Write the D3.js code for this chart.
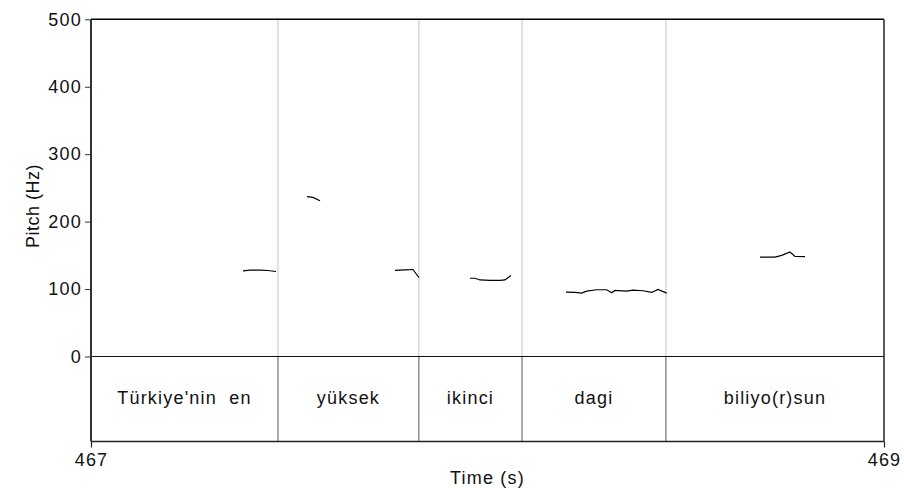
<!DOCTYPE html>
<html><head><meta charset="utf-8">
<script src="https://cdn.jsdelivr.net/npm/d3@7/dist/d3.min.js"></script>
<style>body{margin:0;background:#fff}svg text{font-family:"Liberation Sans",Arial,sans-serif;}</style>
</head><body><svg id="c" width="904" height="488"></svg>
<script>
// Data
const xDomain = [467, 469];
const yDomain = [0, 500];
const yTicks = [0, 100, 200, 300, 400, 500];
const xTickLabels = ["467", "469"];
const boundaries = [467.4716, 467.827, 468.087, 468.450];
const words = ["Türkiye'nin  en", "yüksek", "ikinci", "dagi", "biliyo(r)sun"];
const pitchSegments = [
  [[467.3834,127],[467.401,128],[467.426,128],[467.446,127.5],[467.4666,126]],
  [[467.5448,237],[467.560,236],[467.5776,231]],
  [[467.7667,127.6],[467.792,128.5],[467.812,129],[467.8272,116.8]],
  [[467.9559,116],[467.9685,116],[467.981,113.5],[468.0063,113],[468.0315,113],[468.0441,113.5],[468.0593,120]],
  [[468.198,95.4],[468.2207,95],[468.2376,94],[468.2502,97],[468.2754,99],[468.3006,99],[468.3132,94.5],[468.3215,98],[468.3510,97],[468.3670,98.5],[468.3922,97.5],[468.4141,95],[468.4300,99.5],[468.4520,94]],
  [[468.6873,147.3],[468.7251,147.5],[468.7420,150],[468.7629,155],[468.7755,148.4],[468.8008,148]]
];

const L = 91, R = 884, T = 19.3, Y0 = 356.5, B = 441.5;
const svg = d3.select("#c");
const x = d3.scaleLinear().domain(xDomain).range([L, R]);
const y = d3.scaleLinear().domain(yDomain).range([Y0, T]);
const fs = "18px", ls = "1.2px";

// boundaries: dotted in pitch area, solid in tier
svg.selectAll(".bd").data(boundaries).enter().append("line")
  .attr("x1", d => x(d)).attr("x2", d => x(d)).attr("y1", T).attr("y2", Y0)
  .attr("stroke", "#888").attr("stroke-width", 1).attr("stroke-dasharray", "1,1");
svg.selectAll(".bs").data(boundaries).enter().append("line")
  .attr("x1", d => x(d)).attr("x2", d => x(d)).attr("y1", Y0).attr("y2", B)
  .attr("stroke", "#555").attr("stroke-width", 1);

// frame
svg.append("line").attr("x1", L).attr("x2", R).attr("y1", T).attr("y2", T).attr("stroke", "#000").attr("stroke-width", 1.5);
svg.append("line").attr("x1", L).attr("x2", R).attr("y1", Y0).attr("y2", Y0).attr("stroke", "#111").attr("stroke-width", 1);
svg.append("line").attr("x1", L).attr("x2", R).attr("y1", B).attr("y2", B).attr("stroke", "#222").attr("stroke-width", 1.5);
svg.append("line").attr("x1", R).attr("x2", R).attr("y1", T).attr("y2", B).attr("stroke", "#222").attr("stroke-width", 1.5);

// y axis
const ya = svg.append("g").attr("transform", `translate(${L},0)`)
  .call(d3.axisLeft(y).tickValues(yTicks).tickSize(6).tickPadding(3).tickFormat(d3.format("d")));
ya.select(".domain").attr("d", `M0,${T}V${B}`).attr("stroke", "#333").attr("stroke-width", 2);
ya.selectAll(".tick line").attr("stroke", "#333");
ya.selectAll("text").style("font-size", fs).style("letter-spacing", ls).attr("fill", "#111");

// x axis
const xa = svg.append("g").attr("transform", `translate(0,${B})`)
  .call(d3.axisBottom(x).tickValues(xDomain).tickSize(6).tickPadding(6).tickFormat((d, i) => xTickLabels[i]));
xa.select(".domain").remove();
xa.selectAll(".tick line").attr("stroke", "#222").attr("stroke-width", 1.2);
xa.selectAll("text").style("font-size", fs).style("letter-spacing", ls).attr("fill", "#111");

// words
const edges = [xDomain[0], ...boundaries, xDomain[1]];
svg.selectAll(".w").data(words).enter().append("text")
  .attr("x", (d, i) => (x(edges[i]) + x(edges[i + 1])) / 2)
  .attr("y", 404).attr("text-anchor", "middle").style("white-space", "pre")
  .style("font-size", fs).style("letter-spacing", ls).attr("fill", "#111").text(d => d);

// pitch
const line = d3.line().x(d => x(d[0])).y(d => y(d[1]));
svg.selectAll(".p").data(pitchSegments).enter().append("path")
  .attr("d", line).attr("fill", "none").attr("stroke", "#000").attr("stroke-width", 1.2);

// labels
svg.append("text").attr("x", (L + R) / 2).attr("y", 484).attr("text-anchor", "middle")
  .style("font-size", fs).style("letter-spacing", ls).attr("fill", "#111").text("Time (s)");
svg.append("text").attr("transform", "translate(39,206) rotate(-90)").attr("text-anchor", "middle")
  .style("font-size", fs).style("letter-spacing", "0.5px").attr("fill", "#111").text("Pitch (Hz)");
</script></body></html>
